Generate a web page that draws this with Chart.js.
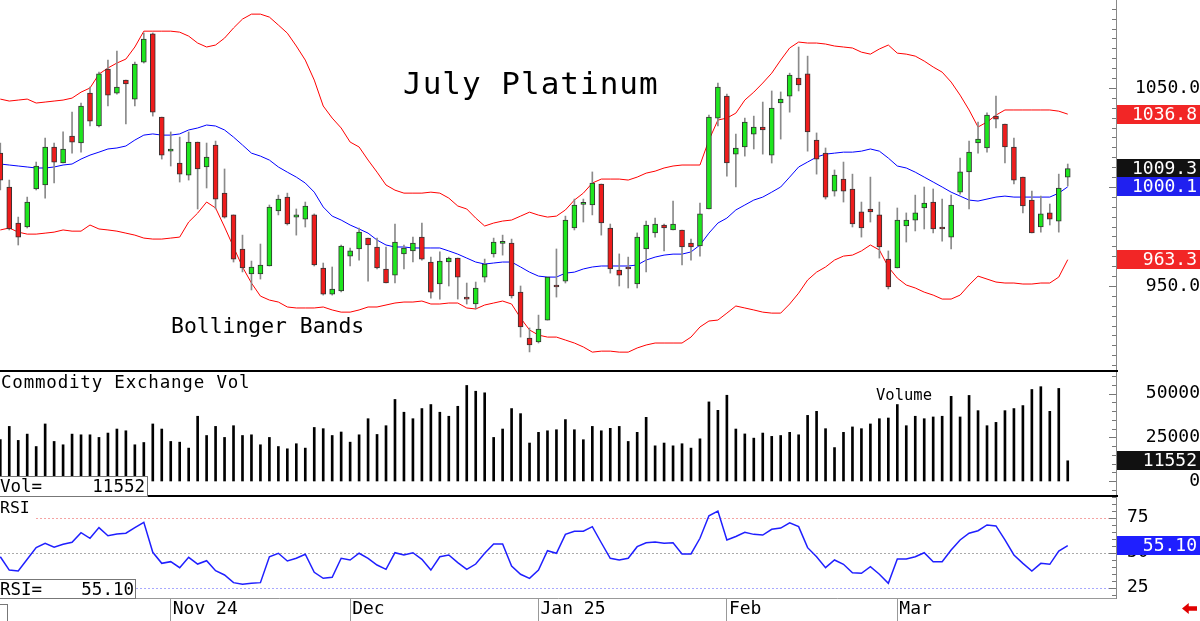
<!DOCTYPE html>
<html lang="en">
<head>
<meta charset="utf-8">
<title>July Platinum</title>
<script src="https://cdn.jsdelivr.net/npm/chart.js@4.4.1/dist/chart.umd.min.js"></script>
<style>
  body { margin: 0; background: #fff; }
  #wrap { position: relative; width: 1200px; height: 621px; overflow: hidden; font-family: "DejaVu Sans Mono", monospace; color: #000; }
  canvas { position: absolute; left: 0; }
  #priceChart { top: 0; }
  #volChart { top: 371px; }
  #rsiChart { top: 496px; }
  .txt { position: absolute; white-space: pre; line-height: 1; }
  .rule { position: absolute; left: 0; width: 1118px; height: 2px; background: #000; }
  .readout { position: absolute; left: -1px; background: #fff; border: 1px solid #777; font-size: 17.5px; line-height: 1; }
  .readout span { position: absolute; top: 1px; white-space: pre; }
  #corner { position: absolute; left: -1px; top: 604px; width: 7px; height: 17px; border: 1px solid #777; }
  #arrow { position: absolute; left: 1182px; top: 603px; width: 15px; height: 11px; background: #e00000;
           clip-path: polygon(0 50%, 45% 0, 45% 30%, 100% 30%, 100% 70%, 45% 70%, 45% 100%); }
</style>
</head>
<body>
<div id="wrap">
  <canvas id="priceChart" width="1200" height="371"></canvas>
  <canvas id="volChart" width="1200" height="125"></canvas>
  <canvas id="rsiChart" width="1200" height="125"></canvas>
  <div class="rule" style="top:370px"></div>
  <div class="rule" style="top:495px"></div>
  <div class="txt" style="left:403px;top:68px;font-size:31px;letter-spacing:1px">July Platinum</div>
  <div class="txt" style="left:171px;top:315px;font-size:21.4px">Bollinger Bands</div>
  <div class="txt" style="left:1px;top:374px;font-size:17.5px;letter-spacing:0.8px">Commodity Exchange Vol</div>
  <div class="txt" style="left:876px;top:388px;font-size:15.5px">Volume</div>
  <div class="txt" style="left:0;top:500px;width:36px;height:20px;background:#fff;font-size:16.5px">RSI</div>
  <div class="readout" style="top:476px;width:147px;height:19px"><span style="left:0">Vol=</span><span id="volReadout" style="right:2px"></span></div>
  <div class="readout" style="top:579px;width:135px;height:18px"><span style="left:0">RSI=</span><span id="rsiReadout" style="right:1px"></span></div>
  <div id="corner"></div>
  <div id="arrow"></div>
</div>
<script>
// Daily sessions (index 0 = first visible bar)
const opens = [
  1017.1, 1000.0, 981.8, 979.8, 999.0, 1001.0, 1020.2, 1012.1, 1025.7, 1022.2,
  1047.4, 1030.8, 1059.6, 1047.4, 1054.0, 1044.4, 1063.1, 1077.3, 1035.3, 1018.1,
  1012.1, 1006.0, 1022.7, 1010.1, 1021.2, 996.9, 985.9, 968.7, 956.1, 956.1,
  960.1, 987.9, 994.9, 984.8, 983.8, 985.9, 959.1, 945.9, 947.5, 965.1,
  968.7, 974.2, 969.7, 958.6, 955.5, 966.2, 967.7, 974.7, 962.1, 951.0,
  962.1, 964.1, 943.9, 940.9, 954.5, 966.2, 971.5, 971.7, 946.9, 923.7,
  921.7, 932.8, 950.5, 952.5, 979.3, 991.2, 990.9, 1001.5, 979.3, 958.1,
  959.1, 951.0, 968.7, 976.8, 980.8, 978.3, 978.3, 971.7, 970.2, 988.9,
  1034.8, 1045.9, 1016.6, 1020.2, 1026.7, 1030.3, 1016.1, 1042.4, 1045.9, 1055.0,
  1057.1, 1023.7, 1017.1, 997.9, 1004.0, 999.0, 987.4, 988.9, 985.9, 963.6,
  959.1, 980.3, 983.3, 989.4, 992.4, 979.8, 974.7, 997.4, 1007.6, 1022.2,
  1019.7, 1035.8, 1031.8, 1020.2, 1005.0, 993.4, 979.8, 986.9, 982.8, 1005.0
];
const highs = [
  1022.2, 1003.5, 984.8, 994.9, 1012.6, 1024.7, 1022.2, 1027.8, 1037.8, 1042.4,
  1050.5, 1058.0, 1064.1, 1068.7, 1054.0, 1063.1, 1077.8, 1077.8, 1035.3, 1027.8,
  1025.2, 1027.8, 1022.7, 1022.2, 1023.2, 1009.1, 985.9, 975.7, 962.6, 971.2,
  990.9, 995.9, 996.9, 988.9, 992.4, 986.4, 961.6, 959.6, 970.7, 969.2,
  979.3, 974.2, 974.2, 969.7, 981.3, 970.7, 974.7, 981.8, 964.6, 967.2,
  964.6, 964.1, 951.5, 952.0, 963.6, 974.2, 975.7, 973.7, 950.0, 928.8,
  935.3, 954.5, 968.7, 985.3, 993.9, 993.9, 1007.6, 1001.5, 981.3, 966.2,
  964.6, 976.8, 982.8, 984.3, 981.3, 992.9, 978.3, 973.7, 991.9, 1036.3,
  1052.5, 1046.9, 1026.7, 1034.8, 1035.8, 1042.9, 1048.5, 1048.0, 1057.5, 1070.7,
  1066.1, 1027.3, 1019.7, 1008.6, 1012.6, 1006.5, 992.4, 1005.0, 992.4, 967.7,
  989.4, 986.9, 995.9, 1000.0, 999.0, 993.9, 995.9, 1014.6, 1023.2, 1032.8,
  1037.4, 1045.9, 1031.8, 1024.7, 1005.0, 997.9, 995.4, 991.4, 1006.5, 1011.6
];
const lows = [
  998.5, 978.3, 970.7, 979.3, 998.5, 994.4, 1002.0, 1012.1, 1017.1, 1017.6,
  1030.8, 1030.3, 1040.9, 1046.9, 1031.8, 1040.9, 1062.6, 1035.8, 1014.1, 1010.6,
  1002.5, 1003.5, 988.9, 999.5, 988.9, 984.3, 962.1, 957.1, 948.0, 953.5,
  960.1, 985.9, 980.8, 975.7, 979.8, 960.1, 945.4, 945.4, 947.0, 960.1,
  963.1, 952.5, 958.6, 951.5, 951.5, 958.6, 962.1, 963.1, 943.9, 943.4,
  950.0, 943.4, 940.9, 938.4, 952.0, 964.6, 965.6, 943.9, 924.2, 916.7,
  921.2, 932.8, 944.4, 951.5, 978.3, 982.3, 985.9, 975.7, 956.5, 950.0,
  949.0, 949.0, 957.1, 974.7, 967.7, 978.3, 960.6, 963.1, 965.1, 988.9,
  1030.8, 1005.5, 1000.0, 1015.6, 1019.2, 1016.6, 1012.1, 1024.2, 1037.8, 1048.5,
  1018.1, 1006.5, 993.9, 995.4, 992.4, 979.8, 974.7, 982.3, 964.1, 948.5,
  959.1, 972.2, 977.8, 978.8, 976.8, 972.7, 968.7, 996.4, 988.9, 1017.1,
  1017.6, 1029.8, 1012.1, 1001.5, 986.9, 976.8, 977.2, 980.8, 977.2, 1000.5
];
const closes = [
  1003.5, 978.8, 974.7, 992.4, 1010.6, 1020.2, 1012.6, 1019.2, 1022.7, 1040.9,
  1033.3, 1057.1, 1046.4, 1050.5, 1052.0, 1062.1, 1074.7, 1037.8, 1016.1, 1019.2,
  1006.5, 1022.7, 1009.1, 1015.1, 993.9, 984.8, 963.6, 959.1, 959.6, 960.6,
  989.9, 993.9, 981.3, 985.9, 990.4, 960.6, 945.9, 948.5, 970.2, 967.7,
  977.2, 970.7, 959.1, 951.5, 972.2, 969.2, 971.7, 963.6, 946.9, 962.6,
  964.1, 954.5, 943.4, 949.0, 961.1, 972.2, 971.7, 945.0, 929.3, 920.2,
  928.3, 954.5, 949.5, 983.3, 990.9, 991.4, 1002.0, 981.8, 958.6, 955.5,
  958.6, 974.7, 980.8, 981.3, 979.3, 981.3, 969.7, 969.7, 986.4, 1035.3,
  1050.5, 1012.1, 1019.7, 1032.8, 1030.3, 1028.8, 1039.9, 1044.4, 1056.5, 1051.5,
  1027.8, 1014.1, 994.9, 1006.0, 997.9, 981.3, 979.3, 987.4, 969.7, 949.5,
  983.3, 983.3, 986.9, 991.9, 978.8, 978.8, 990.9, 1007.6, 1017.6, 1024.2,
  1036.3, 1034.3, 1020.2, 1003.5, 990.4, 976.8, 986.4, 983.8, 999.5, 1009.3
];

// Bollinger bands as plotted
const upperBand = [
  1044.4, 1043.4, 1043.9, 1044.4, 1042.4, 1042.9, 1043.4, 1043.9, 1044.9, 1047.9,
  1050.0, 1057.0, 1060.1, 1062.6, 1064.6, 1070.7, 1078.7, 1078.7, 1078.7, 1078.7,
  1078.2, 1076.2, 1072.7, 1070.7, 1071.7, 1075.2, 1080.3, 1084.8, 1087.3, 1087.3,
  1085.8, 1081.8, 1077.7, 1071.2, 1064.1, 1054.0, 1040.9, 1034.8, 1029.8, 1022.7,
  1020.2, 1013.6, 1007.5, 1001.0, 998.4, 996.9, 996.9, 996.9, 997.4, 996.9,
  994.4, 990.4, 988.9, 984.3, 980.3, 981.8, 982.8, 983.3, 985.3, 987.3,
  985.8, 984.8, 985.3, 988.4, 993.4, 996.9, 1002.0, 1004.0, 1004.0, 1004.0,
  1003.5, 1005.0, 1007.0, 1008.0, 1009.6, 1010.6, 1011.1, 1011.1, 1011.1, 1023.7,
  1033.8, 1034.8, 1037.3, 1043.9, 1047.9, 1052.5, 1057.5, 1064.1, 1070.2, 1073.2,
  1072.7, 1072.7, 1072.2, 1071.2, 1070.7, 1070.2, 1068.1, 1067.1, 1069.7, 1071.7,
  1067.6, 1067.1, 1066.1, 1063.6, 1060.6, 1058.0, 1053.0, 1046.4, 1038.9, 1030.3,
  1032.8, 1036.3, 1038.9, 1038.9, 1038.9, 1038.9, 1038.9, 1038.9, 1038.3, 1036.8
];
const midBand = [
  1011.6, 1011.1, 1010.6, 1010.1, 1009.6, 1009.6, 1010.1, 1011.1, 1011.6, 1014.1,
  1016.1, 1017.6, 1019.2, 1019.7, 1020.7, 1023.7, 1026.2, 1026.8, 1026.2, 1026.2,
  1026.8, 1028.8, 1029.8, 1031.3, 1030.8, 1028.8, 1025.2, 1021.2, 1017.1, 1015.6,
  1013.6, 1010.1, 1007.5, 1005.0, 1002.0, 997.4, 989.9, 985.3, 983.3, 980.8,
  978.8, 976.7, 973.2, 970.7, 969.7, 969.7, 969.2, 969.2, 969.2, 969.2,
  967.7, 966.1, 964.1, 962.1, 961.1, 961.6, 962.1, 962.1, 959.6, 957.0,
  955.0, 954.5, 954.5, 956.5, 957.0, 958.6, 959.6, 960.1, 960.1, 960.1,
  960.1, 960.6, 963.1, 964.6, 965.6, 966.1, 966.1, 967.2, 970.7, 976.7,
  981.8, 984.3, 988.4, 990.9, 993.4, 994.9, 997.4, 1000.0, 1005.0, 1010.1,
  1012.6, 1015.1, 1016.6, 1017.1, 1017.6, 1017.6, 1018.1, 1019.2, 1018.1, 1014.6,
  1010.6, 1009.6, 1007.5, 1005.0, 1002.5, 1000.0, 997.4, 995.4, 993.4, 992.9,
  993.9, 994.9, 995.4, 994.9, 994.9, 994.9, 994.9, 994.9, 996.9, 1000.1
];
const lowerBand = [
  978.3, 979.3, 977.2, 976.2, 976.2, 976.7, 977.2, 978.3, 977.7, 977.7,
  980.8, 978.8, 978.3, 977.7, 976.7, 975.7, 974.2, 973.7, 973.7, 974.2,
  974.7, 982.3, 986.8, 992.4, 989.4, 979.8, 969.7, 959.6, 951.5, 944.9,
  942.9, 941.9, 939.4, 938.9, 938.9, 938.9, 939.4, 937.9, 936.8, 936.8,
  937.9, 939.4, 939.4, 940.4, 941.4, 941.9, 941.9, 942.4, 940.9, 940.9,
  941.4, 941.4, 938.9, 938.4, 940.4, 941.4, 942.4, 940.9, 933.8, 927.8,
  925.2, 924.2, 924.2, 922.7, 921.2, 919.2, 916.6, 917.1, 917.1, 916.6,
  916.6, 918.7, 920.2, 921.2, 921.2, 921.2, 921.2, 924.2, 929.3, 932.3,
  932.8, 936.3, 939.9, 938.9, 937.9, 936.8, 936.3, 936.3, 940.9, 946.4,
  953.0, 957.0, 959.6, 963.1, 965.1, 965.6, 967.7, 970.7, 968.2, 959.6,
  954.0, 950.5, 949.0, 946.9, 945.4, 943.4, 943.4, 945.4, 950.5, 955.0,
  953.5, 952.0, 951.5, 951.5, 951.0, 951.0, 951.5, 951.5, 954.5, 963.3
];

// Commodity Exchange volume
const volumes = [
  23600, 31200, 23200, 26800, 19700, 32600, 22600, 20700, 26800, 26400,
  26400, 24900, 27400, 29700, 28700, 20700, 22000, 32600, 29700, 22600,
  22200, 18800, 37000, 26000, 31200, 24900, 31600, 26000, 26400, 20700,
  24900, 19700, 18400, 21300, 18800, 30600, 29900, 26000, 28000, 22200,
  26400, 35600, 26600, 31600, 46600, 39300, 35600, 41400, 43700, 39300,
  37000, 42700, 54600, 51300, 50400, 24900, 29700, 41400, 38500, 21700,
  27800, 28700, 29300, 35100, 29300, 23600, 31200, 28700, 30100, 31200,
  22600, 27800, 36400, 20100, 21700, 20100, 21300, 18800, 24100, 45200,
  40400, 49000, 29700, 26900, 24500, 27400, 25500, 26000, 27800, 26400,
  37500, 39800, 29900, 19100, 27800, 30900, 29900, 32600, 35600, 36000,
  43700, 31600, 37000, 35600, 36600, 37000, 48400, 36600, 48900, 40200,
  31600, 33500, 40200, 41400, 43100, 52300, 53900, 39800, 52900, 11552
];

// RSI
const rsiValues = [
  47.1, 37.6, 36.9, 45.3, 53.6, 56.7, 53.9, 56.0, 57.4, 64.3,
  60.3, 67.9, 62.1, 63.4, 63.9, 67.9, 71.7, 50.3, 42.4, 43.6,
  39.3, 46.7, 41.9, 44.3, 37.1, 34.1, 28.6, 27.4, 28.1, 28.6,
  47.1, 49.6, 44.1, 46.0, 48.9, 36.0, 31.7, 32.4, 46.0, 44.8,
  49.6, 46.0, 41.2, 38.1, 50.0, 48.4, 50.0, 45.3, 37.6, 47.1,
  48.4, 42.9, 38.1, 41.9, 49.6, 56.2, 56.2, 40.5, 34.6, 31.7,
  37.6, 51.4, 49.6, 63.1, 65.3, 65.3, 68.6, 57.1, 46.0, 44.8,
  46.0, 54.3, 57.1, 57.6, 56.7, 57.1, 49.1, 49.1, 60.3, 76.4,
  79.8, 59.1, 61.6, 64.6, 63.1, 62.6, 66.7, 67.6, 71.4, 68.6,
  53.6, 47.1, 39.3, 44.8, 41.7, 35.7, 35.3, 40.0, 34.6, 28.1,
  45.5, 45.5, 47.1, 50.0, 43.6, 43.6, 51.9, 59.1, 63.9, 65.7,
  69.8, 69.1, 59.1, 48.4, 42.4, 36.9, 42.4, 41.7, 51.2, 55.1
];

// Axis ticks
const monthStarts = [19, 39, 60, 81, 100];
const monthLabels = ['Nov 24', 'Dec', 'Jan 25', 'Feb', 'Mar'];
const priceTicks = [950, 1000, 1050];
const volTicks = [0, 25000, 50000];
const rsiTicks = [25, 50, 75];
const rsiLevels = [75, 50, 25];

const N = closes.length;
const xMin = -0.033;
const xMax = 124.38;
const MONO = 'DejaVu Sans Mono';

// Tick marks on the inside of the right axis plus the coloured last-value boxes
const rightAxisDecor = {
    id: 'rightAxisDecor',
    afterDraw(chart, args, opts) {
        const { ctx, chartArea } = chart;
        const y = chart.scales.y;
        ctx.save();
        ctx.strokeStyle = '#777';
        ctx.lineWidth = 1;
        for (let v = Math.ceil(y.min / opts.minorStep) * opts.minorStep; v <= y.max; v += opts.minorStep) {
            const py = Math.round(y.getPixelForValue(v)) + 0.5;
            const len = (v % opts.majorStep === 0) ? 7 : 4;
            ctx.beginPath();
            ctx.moveTo(chartArea.right - len, py);
            ctx.lineTo(chartArea.right, py);
            ctx.stroke();
        }
        ctx.font = '18px "' + MONO + '"';
        ctx.textAlign = 'right';
        ctx.textBaseline = 'middle';
        (opts.boxes || []).forEach(b => {
            const py = y.getPixelForValue(b.value);
            ctx.fillStyle = b.color;
            ctx.fillRect(chartArea.right + 1, Math.round(py - 9.5), chart.width - chartArea.right - 1, 19);
            ctx.fillStyle = '#fff';
            ctx.fillText(b.text, chart.width - 3, py + 1);
        });
        ctx.restore();
    }
};

// Dotted 75 / 50 / 25 guides in the RSI pane
const rsiGuides = {
    id: 'rsiGuides',
    beforeDatasetsDraw(chart, args, opts) {
        const { ctx, chartArea } = chart;
        const y = chart.scales.y;
        ctx.save();
        ctx.setLineDash([2, 2]);
        ctx.lineWidth = 1;
        opts.levels.forEach((lvl, i) => {
            const py = Math.round(y.getPixelForValue(lvl)) + 0.5;
            ctx.strokeStyle = opts.colors[i];
            ctx.beginPath();
            ctx.moveTo(chartArea.left, py);
            ctx.lineTo(chartArea.right, py);
            ctx.stroke();
        });
        ctx.restore();
    }
};

function hiddenX() {
    return { type: 'linear', display: false, min: xMin, max: xMax, offset: false };
}

function rightAxis(min, max, ticks, tickOpts) {
    return {
        position: 'right',
        min: min,
        max: max,
        // fixed-width axis strip; no extra label padding pushed into the plot
        afterFit: s => { s.width = 84; s.paddingTop = 0; s.paddingBottom = 0; },
        afterBuildTicks: s => { s.ticks = ticks.map(v => ({ value: v })); },
        grid: { display: false, drawTicks: false },
        border: { display: true, color: '#888' },
        ticks: Object.assign({ font: { family: MONO, size: 18 }, color: '#000' }, tickOpts)
    };
}

const baseOptions = {
    responsive: false,
    animation: false,
    devicePixelRatio: 1,
    layout: { padding: 0 },
    events: []
};

function points(arr) {
    return arr.map((v, i) => ({ x: i, y: v }));
}

// Price pane
new Chart(document.getElementById('priceChart'), {
    type: 'bar',
    data: {
        datasets: [
            { type: 'line', data: points(upperBand), borderColor: '#ff0000', borderWidth: 1, pointRadius: 0, order: 2 },
            { type: 'line', data: points(midBand), borderColor: '#0000ff', borderWidth: 1, pointRadius: 0, order: 2 },
            { type: 'line', data: points(lowerBand), borderColor: '#ff0000', borderWidth: 1, pointRadius: 0, order: 2 },
            {
                data: lows.map((l, i) => ({ x: i, y: [l, highs[i]] })),
                backgroundColor: '#8a8a8a', barThickness: 1, grouped: false, order: 1
            },
            {
                data: opens.map((o, i) => ({ x: i, y: [o, closes[i]] })),
                backgroundColor: closes.map((c, i) => c >= opens[i] ? '#1ee61e' : '#ee1c1c'),
                borderColor: '#333', borderWidth: 1, borderSkipped: false,
                barThickness: 5, grouped: false, minBarLength: 2, order: 0
            }
        ]
    },
    options: Object.assign({}, baseOptions, {
        plugins: {
            legend: { display: false },
            tooltip: { enabled: false },
            rightAxisDecor: {
                minorStep: 5, majorStep: 50,
                boxes: [
                    { value: upperBand[N - 1], color: '#f22626', text: upperBand[N - 1].toFixed(1) },
                    { value: closes[N - 1], color: '#111', text: closes[N - 1].toFixed(1) },
                    { value: midBand[N - 1], color: '#2020f0', text: midBand[N - 1].toFixed(1) },
                    { value: lowerBand[N - 1], color: '#f22626', text: lowerBand[N - 1].toFixed(1) }
                ]
            }
        },
        scales: {
            x: hiddenX(),
            y: rightAxis(907.07, 1094.44, priceTicks, { crossAlign: 'far', padding: 16, callback: v => v.toFixed(1) })
        }
    }),
    plugins: [rightAxisDecor]
});

// Volume pane
new Chart(document.getElementById('volChart'), {
    type: 'bar',
    data: {
        datasets: [{ data: points(volumes), backgroundColor: '#000', barThickness: 2, grouped: false }]
    },
    options: Object.assign({}, baseOptions, {
        plugins: {
            legend: { display: false },
            tooltip: { enabled: false },
            rightAxisDecor: {
                minorStep: 5000, majorStep: 25000,
                boxes: [{ value: volumes[N - 1], color: '#111', text: String(volumes[N - 1]) }]
            }
        },
        scales: {
            x: hiddenX(),
            y: rightAxis(-8570, 62860, volTicks, { crossAlign: 'far', padding: 27, callback: v => String(v) })
        }
    }),
    plugins: [rightAxisDecor]
});

// RSI pane with the month axis underneath
new Chart(document.getElementById('rsiChart'), {
    type: 'line',
    data: {
        datasets: [{ data: points(rsiValues), borderColor: '#1f1fff', borderWidth: 1.5, pointRadius: 0, tension: 0 }]
    },
    options: Object.assign({}, baseOptions, {
        plugins: {
            legend: { display: false },
            tooltip: { enabled: false },
            rsiGuides: { levels: rsiLevels, colors: ['#f5a3a3', '#aaaaaa', '#a8a8ff'] },
            rightAxisDecor: {
                minorStep: 5, majorStep: 25,
                boxes: [{ value: rsiValues[N - 1], color: '#1f1fff', text: rsiValues[N - 1].toFixed(2) }]
            }
        },
        scales: {
            x: {
                type: 'linear', min: xMin, max: xMax, offset: false,
                afterFit: s => { s.height = 23; s.paddingLeft = 0; s.paddingRight = 0; },
                afterBuildTicks: s => { s.ticks = monthStarts.map(v => ({ value: v })); },
                grid: { display: true, drawOnChartArea: false, drawTicks: true, tickLength: 23, color: '#999' },
                border: { display: true, color: '#999' },
                ticks: {
                    autoSkip: false, maxRotation: 0, align: 'start', padding: -22, labelOffset: 2,
                    font: { family: MONO, size: 18 }, color: '#000',
                    callback: (v, i) => monthLabels[i]
                }
            },
            y: rightAxis(17.64, 90.5, rsiTicks, { crossAlign: 'near', padding: 11, callback: v => String(v) })
        }
    }),
    plugins: [rsiGuides, rightAxisDecor]
});

document.getElementById('volReadout').textContent = String(volumes[N - 1]);
document.getElementById('rsiReadout').textContent = rsiValues[N - 1].toFixed(2);
</script>
</body>
</html>
